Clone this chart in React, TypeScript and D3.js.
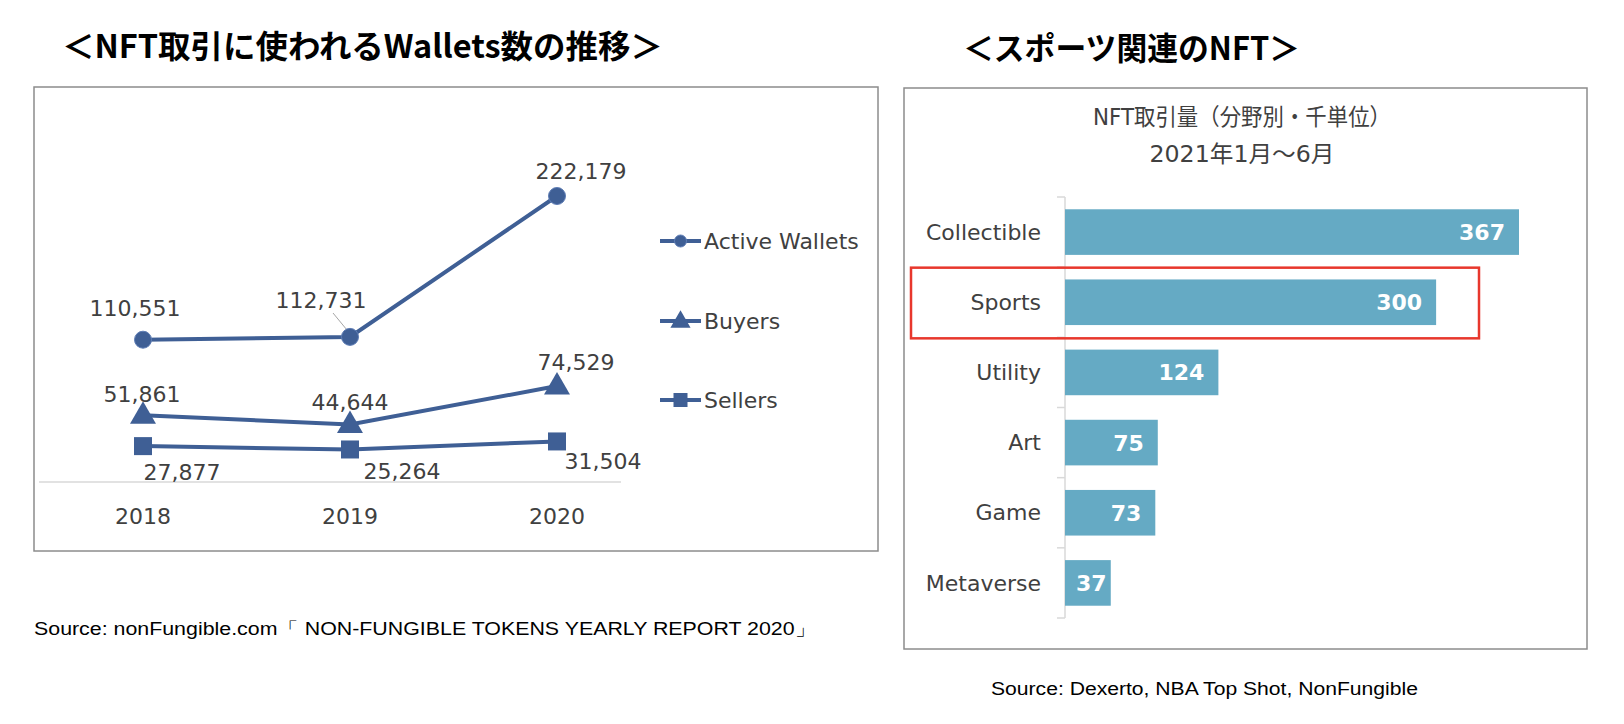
import React from "react";
import * as d3 from "d3";

const years = ["2018", "2019", "2020"];
const activeWallets = [110551, 112731, 222179];
const buyers = [51861, 44644, 74529];
const sellers = [27877, 25264, 31504];
const seriesNames = ["Active Wallets", "Buyers", "Sellers"];

const categories = ["Collectible", "Sports", "Utility", "Art", "Game", "Metaverse"];
const volumes = [367, 300, 124, 75, 73, 37];

// label offsets (styling): [dx, dy] per series per year
const labelOffsets = [
  [[-8, -31], [-29, -37], [24, -25]],
  [[-1, -21], [0, -22], [19, -24]],
  [[39, 26], [52, 22], [46, 20]],
];

const LINE = "#3F5F95";
const GREY = "#404040";
const BAR = "#65AAC4";
const FONT = "'DejaVu Sans', Verdana, sans-serif";
const MIX = "'DejaVu Sans', 'Noto Sans CJK JP', sans-serif";
const CJK = "'Noto Sans CJK JP', 'DejaVu Sans', sans-serif";

function Marker({ kind, x, y, s }: { kind: number; x: number; y: number; s: number }) {
  if (kind === 0) return <circle cx={x} cy={y} r={s * 0.5} fill={LINE} stroke="#5E7DB5" strokeWidth={1} />;
  if (kind === 1) {
    const p = d3.symbol().type(d3.symbolTriangle).size(s * s * 0.9)();
    return <path d={p || ""} transform={`translate(${x},${y + 1})`} fill={LINE} />;
  }
  return <rect x={x - s / 2} y={y - s / 2} width={s} height={s} fill={LINE} />;
}

export default function App() {
  const xL = d3.scalePoint<string>().domain(years).range([143, 557]);
  const yL = d3.scaleLinear().domain([0, 222179]).range([482, 196]);
  const allSeries = [activeWallets, buyers, sellers];
  const line = d3
    .line<number>()
    .x((_, i) => xL(years[i]) as number)
    .y((d) => yL(d));
  const fmt = d3.format(",");

  const yB = d3
    .scaleBand<string>()
    .domain(categories)
    .range([197, 618])
    .paddingInner(0.35)
    .paddingOuter(0.175);
  const xB = d3.scaleLinear().domain([0, 367]).range([1065, 1519]);
  const step = yB.step();
  const bandStart = (c: string) => (yB(c) as number) - (yB.paddingInner() * step) / 2;
  const legendY = [241, 321, 400];

  return (
    <svg
      width={1624}
      height={724}
      style={{ position: "absolute", left: 0, top: 0, background: "#fff" }}
    >
      {/* Titles */}
      <text x={62} y={58} fontFamily={CJK} fontWeight={700} fontSize={32} textLength={601} lengthAdjust="spacingAndGlyphs" fill="#000">
        ＜NFT取引に使われるWallets数の推移＞
      </text>
      <text x={963} y={60} fontFamily={CJK} fontWeight={700} fontSize={32} textLength={337} lengthAdjust="spacingAndGlyphs" fill="#000">
        ＜スポーツ関連のNFT＞
      </text>

      {/* Left panel */}
      <rect x={34} y={87} width={844} height={464} fill="none" stroke="#8c8c8c" strokeWidth={1.5} />
      <line x1={39} x2={621} y1={482} y2={482} stroke="#D9D9D9" strokeWidth={1.5} />
      {years.map((y) => (
        <text key={y} x={xL(y)} y={524} textAnchor="middle" fontFamily={FONT} fontSize={22} fill={GREY}>
          {y}
        </text>
      ))}
      {allSeries.map((s, si) => (
        <path key={si} d={line(s) || ""} fill="none" stroke={LINE} strokeWidth={4} />
      ))}
      {/* leader line */}
      <line x1={333} y1={313} x2={347} y2={330} stroke="#A6A6A6" strokeWidth={1} />
      {allSeries.map((s, si) =>
        s.map((v, i) => (
          <Marker key={`${si}-${i}`} kind={si} x={xL(years[i]) as number} y={yL(v)} s={si === 0 ? 17 : 18} />
        ))
      )}
      {allSeries.map((s, si) =>
        s.map((v, i) => (
          <text
            key={`l${si}-${i}`}
            x={(xL(years[i]) as number) + labelOffsets[si][i][0]}
            y={yL(v) + labelOffsets[si][i][1]}
            dy="0.35em"
            textAnchor="middle"
            fontFamily={FONT}
            fontSize={22}
            fill={GREY}
          >
            {fmt(v)}
          </text>
        ))
      )}
      {/* legend */}
      {seriesNames.map((n, i) => (
        <g key={n}>
          <line x1={660} x2={701} y1={legendY[i]} y2={legendY[i]} stroke={LINE} strokeWidth={4} />
          <Marker kind={i} x={680.5} y={legendY[i]} s={i === 0 ? 12 : 14} />
          <text x={704} y={legendY[i]} dy="0.35em" fontFamily={FONT} fontSize={22} fill={GREY}>
            {n}
          </text>
        </g>
      ))}
      <text x={34} y={635} fontFamily="'Liberation Sans', Arial, sans-serif" fontSize={18} textLength={782} lengthAdjust="spacingAndGlyphs" fill="#000">
        Source: nonFungible.com「 NON-FUNGIBLE TOKENS YEARLY REPORT 2020」
      </text>

      {/* Right panel */}
      <rect x={904} y={88} width={683} height={561} fill="none" stroke="#8c8c8c" strokeWidth={1.5} />
      <text x={1242} y={117} dy="0.35em" textAnchor="middle" fontFamily={MIX} fontSize={23} textLength={298} lengthAdjust="spacingAndGlyphs" fill={GREY}>
        NFT取引量（分野別・千単位）
      </text>
      <text x={1242} y={154} dy="0.35em" textAnchor="middle" fontFamily={MIX} fontSize={23} textLength={185} lengthAdjust="spacingAndGlyphs" fill={GREY}>
        2021年1月～6月
      </text>
      <line x1={1065} x2={1065} y1={197} y2={618} stroke="#D9D9D9" strokeWidth={1.5} />
      {d3.range(categories.length + 1).map((i) => (
        <line key={i} x1={1057} x2={1065} y1={197 + i * step} y2={197 + i * step} stroke="#D9D9D9" strokeWidth={1.5} />
      ))}
      {categories.map((c, i) => {
        const y0 = yB(c) as number;
        const x1 = xB(volumes[i]);
        const w = x1 - xB(0);
        const small = w < 60;
        return (
          <g key={c}>
            <rect x={xB(0)} y={y0} width={w} height={yB.bandwidth()} fill={BAR} />
            <text x={1041} y={y0 + yB.bandwidth() / 2} dy="0.35em" textAnchor="end" fontFamily={FONT} fontSize={22} fill={GREY}>
              {c}
            </text>
            <text
              x={small ? xB(0) + 11 : x1 - 14}
              y={y0 + yB.bandwidth() / 2}
              dy="0.36em"
              textAnchor={small ? "start" : "end"}
              fontFamily={FONT}
              fontWeight={700}
              fontSize={22}
              fill="#fff"
            >
              {volumes[i]}
            </text>
          </g>
        );
      })}
      <rect
        x={911}
        y={bandStart("Sports") + 0.5}
        width={568}
        height={step + 0.5}
        fill="none"
        stroke="#E8372C"
        strokeWidth={2.5}
      />
      <text x={991} y={695} fontFamily="'Liberation Sans', Arial, sans-serif" fontSize={18} textLength={427} lengthAdjust="spacingAndGlyphs" fill="#000">
        Source: Dexerto, NBA Top Shot, NonFungible
      </text>
    </svg>
  );
}
